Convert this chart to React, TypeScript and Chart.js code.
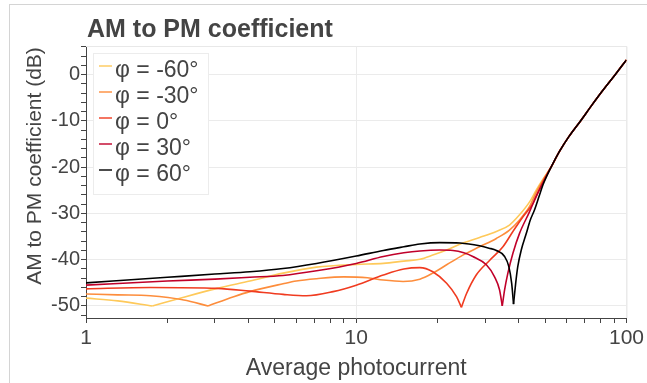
import React, { useEffect, useRef } from 'react';
import { Chart, registerables } from 'chart.js';

Chart.register(...registerables);

// ---- data ----
const seriesLabels = ['φ = -60°', 'φ = -30°', 'φ = 0°', 'φ = 30°', 'φ = 60°'];
const seriesColors = ['#fec95a', '#fd8d3c', '#f03b20', '#c0002a', '#000000'];

const currentM60 = [1, 1.31, 1.76, 2.3, 3.06, 4.04, 5.36, 7.13, 10, 12.6, 15, 17.2, 19.2, 21.6, 24.8, 28.6, 33, 36.9, 40.2, 43.8, 46.4, 49.1];
const coefM60 = [-48.3, -48.9, -50.0, -48.1, -46.2, -44.6, -42.9, -41.6, -41.0, -40.8, -40.3, -39.9, -39.0, -37.9, -36.4, -35.2, -33.9, -32.5, -30.3, -27.5, -24.9, -22.6];

const currentM30 = [1, 1.31, 1.73, 2.3, 2.83, 3.52, 4.04, 5.36, 6.0, 7.13, 9.0, 11, 12.6, 14.9, 17.2, 19.2, 21.6, 24.8, 28.6, 33, 36.9, 40.2, 43.8, 46.4, 49.1];
const coefM30 = [-47.4, -47.6, -47.8, -48.7, -50.0, -48.0, -46.9, -45.2, -44.6, -44.1, -43.7, -43.9, -44.4, -44.7, -44.2, -42.9, -41.1, -39.0, -37.2, -35.4, -33.6, -31.4, -28.5, -25.4, -22.8];

const current0 = [1, 1.73, 3.06, 4.04, 5.36, 6.54, 8.21, 10, 12.6, 15, 17.2, 19.2, 21.6, 23.5, 24.5, 25.6, 27.8, 31.2, 34.9, 38, 41.4, 45.1, 49.1];
const coef0 = [-46.3, -46.0, -46.2, -46.8, -47.5, -47.8, -46.9, -45.5, -43.3, -42.0, -41.7, -42.6, -45.1, -48.0, -50.3, -47.3, -43.3, -40.1, -37.2, -33.9, -30.7, -27.8, -23.1];

const currentP30 = [1, 2, 3, 4.04, 5.36, 7.13, 10, 12.6, 15, 17.2, 20.4, 22.8, 25, 27, 30.3, 32.5, 33.9, 34.7, 35.4, 36.4, 38, 40.2, 43.8, 46.4, 49.1];
const coefP30 = [-45.5, -44.6, -44.2, -43.8, -43.4, -42.4, -40.8, -39.3, -38.5, -38.1, -37.9, -38.0, -38.5, -39.3, -41.1, -43.7, -46.5, -50.0, -46.5, -42.9, -38.6, -34.3, -29.6, -26.2, -23.4];

const currentP60 = [1, 2, 3, 4.04, 5.36, 7.13, 10, 12.6, 15, 17.2, 20.4, 24.2, 28.6, 31, 33, 35.4, 36.7, 37.6, 38.2, 38.9, 39.6, 40.8, 42.6, 44, 45.7, 47.5, 49.1];
const coefP60 = [-45.0, -43.8, -43.1, -42.6, -41.9, -40.8, -39.2, -38.0, -37.2, -36.6, -36.3, -36.4, -37.0, -37.5, -38.0, -39.3, -41.5, -45.1, -49.6, -45.1, -41.5, -37.9, -34.3, -31.5, -29.2, -26.3, -23.8];

// common high-current asymptote shared by all curves
const currentHigh = [52.7, 56.5, 61.2, 67.6, 74, 81, 90.8, 100];
const coefHigh = [-19.9, -16.6, -13.4, -10.0, -6.8, -3.7, 0, 3.2];

const yTickLabels = [0, -10, -20, -30, -40, -50];

const seriesCurrents = [currentM60, currentM30, current0, currentP30, currentP60];
const seriesCoefs = [coefM60, coefM30, coef0, coefP30, coefP60];

const FONT = "'Liberation Sans', Arial, Helvetica, sans-serif";
const TEXT = '#444444';

const overlayPlugin = {
  id: 'overlay',
  beforeDatasetsDraw(chart: any) {
    const { ctx, chartArea: a } = chart;
    ctx.save();
    ctx.strokeStyle = '#e8e8e8';
    ctx.lineWidth = 1;
    ctx.beginPath();
    ctx.moveTo(a.left, a.top + 0.5);
    ctx.lineTo(a.right + 0.5, a.top + 0.5);
    ctx.lineTo(a.right + 0.5, a.bottom);
    ctx.stroke();
    ctx.restore();
  },
  afterDraw(chart: any) {
    const { ctx, chartArea: a } = chart;
    ctx.save();
    // title
    ctx.fillStyle = TEXT;
    ctx.font = `bold 25px ${FONT}`;
    ctx.textAlign = 'left';
    ctx.textBaseline = 'alphabetic';
    ctx.fillText('AM to PM coefficient', a.left + 1, 37);
    // x title
    ctx.font = `23px ${FONT}`;
    ctx.textAlign = 'center';
    ctx.fillText('Average photocurrent', (a.left + a.right) / 2, 375);
    // y title
    ctx.save();
    ctx.translate(41, 166);
    ctx.rotate(-Math.PI / 2);
    ctx.font = `21px ${FONT}`;
    ctx.textAlign = 'center';
    ctx.fillText('AM to PM coefficient (dB)', 0, 0);
    ctx.restore();
    // legend
    const bx = a.left + 7;
    const by = a.top + 7;
    const bw = 115;
    const bh = 141;
    ctx.fillStyle = '#ffffff';
    ctx.fillRect(bx, by, bw, bh);
    ctx.strokeStyle = '#ececec';
    ctx.lineWidth = 1;
    ctx.strokeRect(bx + 0.5, by + 0.5, bw, bh);
    ctx.font = `23px ${FONT}`;
    ctx.textAlign = 'left';
    ctx.textBaseline = 'alphabetic';
    seriesLabels.forEach((label, i) => {
      const base = by + 24 + 26 * i;
      ctx.globalAlpha = 0.7;
      ctx.strokeStyle = seriesColors[i];
      ctx.lineWidth = 2;
      ctx.beginPath();
      ctx.moveTo(bx + 6, base - 11);
      ctx.lineTo(bx + 19, base - 11);
      ctx.stroke();
      ctx.globalAlpha = 1;
      ctx.fillStyle = TEXT;
      ctx.fillText(label, bx + 22, base);
    });
    ctx.restore();
  },
};

export default function App() {
  const ref = useRef<HTMLCanvasElement | null>(null);
  useEffect(() => {
    if (!ref.current) return;
    const datasets: any[] = [];
    seriesLabels.forEach((label, i) => {
      const xs = seriesCurrents[i].concat(currentHigh);
      const ys = seriesCoefs[i].concat(coefHigh);
      const pts = xs.map((x, k) => ({ x, y: ys[k] }));
      // split at the notch so the cusp stays sharp
      let dip = 0;
      ys.forEach((v, k) => { if (v < ys[dip]) dip = k; });
      const parts = [pts.slice(0, dip + 1), pts.slice(dip)];
      parts.forEach((data) => {
        datasets.push({
          label,
          data,
          borderColor: seriesColors[i],
          backgroundColor: seriesColors[i],
          borderWidth: 1.6,
          pointRadius: 0,
          cubicInterpolationMode: 'monotone',
          fill: false,
          order: 10 - i,
        });
      });
    });
    const chart = new Chart(ref.current, {
      type: 'line',
      data: { datasets },
      plugins: [overlayPlugin],
      options: {
        animation: false,
        responsive: false,
        devicePixelRatio: 1,
        layout: { padding: { left: 0, top: 46, right: 19, bottom: 0 } },
        plugins: { legend: { display: false }, title: { display: false }, tooltip: { enabled: false } },
        scales: {
          x: {
            type: 'logarithmic',
            min: 1,
            max: 100,
            afterFit: (axis: any) => { axis.height = 65; },
            afterBuildTicks: (axis: any) => {
              const t: any[] = [];
              [1, 10].forEach((d) => { for (let m = 1; m < 10; m++) t.push({ value: m * d }); });
              t.push({ value: 100 });
              axis.ticks = t;
            },
            border: { display: true, color: TEXT, width: 1 },
            grid: {
              color: (c: any) => (c.tick && (c.tick.value === 10 || c.tick.value === 100) ? '#ebebeb' : 'rgba(0,0,0,0)'),
              tickColor: TEXT,
              tickLength: 5,
              drawTicks: true,
            },
            ticks: {
              autoSkip: false,
              maxRotation: 0,
              padding: 3,
              color: TEXT,
              font: { family: FONT, size: 21 },
              callback: (v: any) => ([1, 10, 100].includes(Number(v)) ? String(v) : ''),
            },
          },
          y: {
            type: 'linear',
            min: -52.6,
            max: 6.2,
            afterFit: (axis: any) => { axis.width = 86; },
            afterBuildTicks: (axis: any) => {
              const t: any[] = [];
              for (let v = -52; v <= 6; v += 2) t.push({ value: v });
              axis.ticks = t;
            },
            border: { display: true, color: TEXT, width: 1 },
            grid: {
              color: (c: any) => (c.tick && yTickLabels.includes(c.tick.value) ? '#ebebeb' : 'rgba(0,0,0,0)'),
              tickColor: TEXT,
              tickLength: 5,
              drawTicks: true,
            },
            ticks: {
              autoSkip: false,
              padding: 1,
              color: TEXT,
              font: { family: FONT, size: 20 },
              callback: (v: any) => (yTickLabels.includes(Number(v)) ? String(v) : ''),
            },
          },
        },
      },
    });
    return () => chart.destroy();
  }, []);
  return (
    <div style={{ position: 'fixed', left: 0, top: 0, width: 647, height: 383, background: '#fff', overflow: 'hidden' }}>
      <div style={{ position: 'absolute', left: 9, top: 4, width: 700, height: 400, borderLeft: '1px solid #d4d4d4', borderTop: '1px solid #d4d4d4' }} />
      <canvas ref={ref} width={647} height={383} style={{ position: 'absolute', left: 0, top: 0, width: 647, height: 383 }} />
    </div>
  );
}
